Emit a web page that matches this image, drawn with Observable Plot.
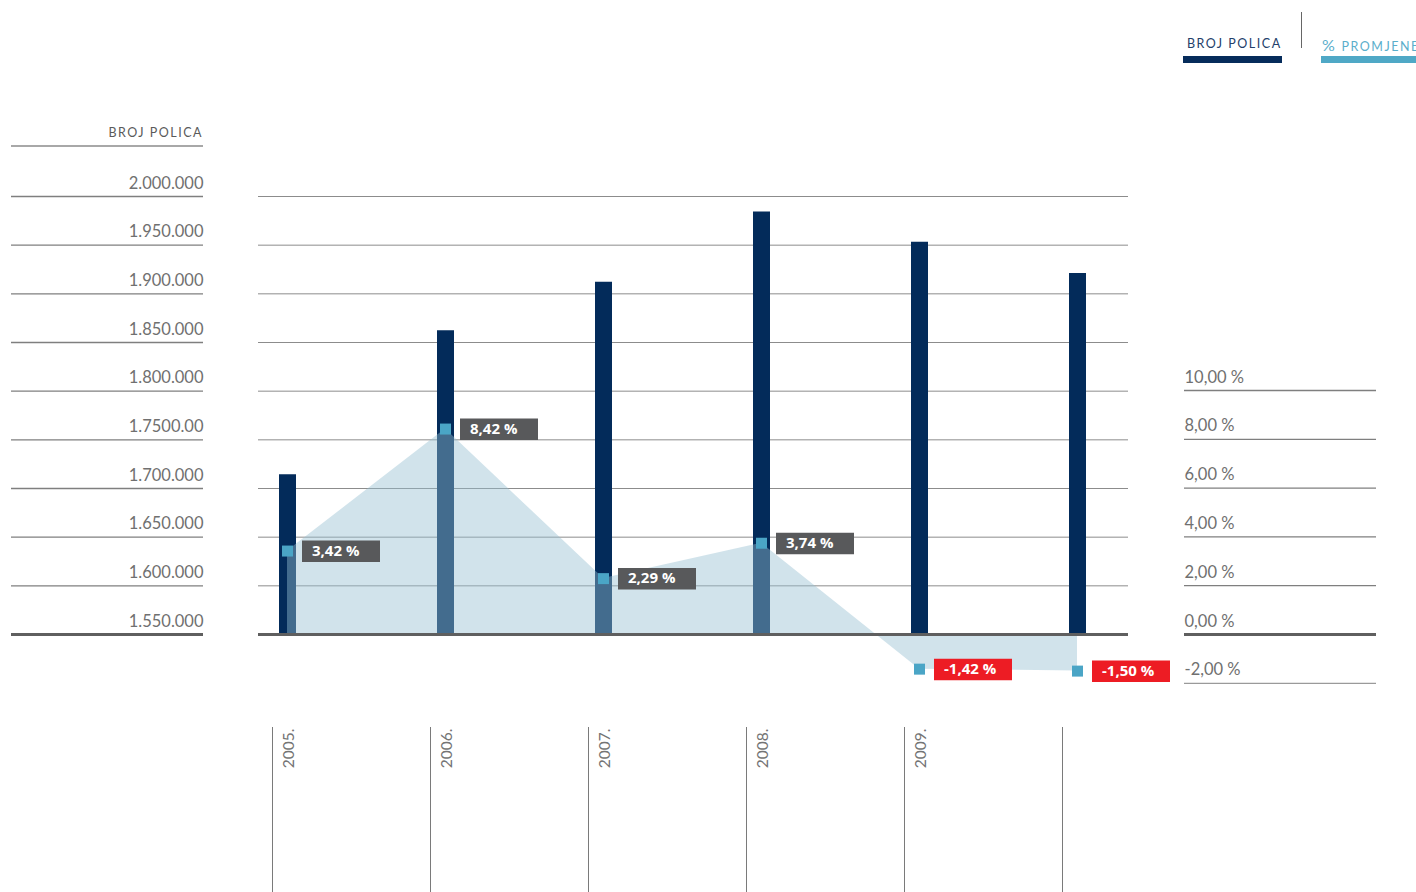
<!DOCTYPE html>
<html>
<head>
<meta charset="utf-8">
<script src="https://cdn.jsdelivr.net/npm/d3@7"></script>
<script src="https://cdn.jsdelivr.net/npm/@observablehq/plot@0.6"></script>
<style>
  html, body { margin: 0; padding: 0; background: #fff; }
  #wrap { position: relative; width: 1416px; height: 892px; overflow: hidden; font-family: Lato, sans-serif; }
  #wrap svg { position: absolute; top: 0; left: 0; }
  .abs { position: absolute; white-space: nowrap; }
</style>
</head>
<body>
<div id="wrap">
  <!-- legend -->
  <div class="abs" style="left:1187px; top:36.5px; font-size:12.5px; line-height:14px; letter-spacing:1.5px; color:#23406a;">BROJ POLICA</div>
  <div class="abs" style="left:1183px; top:56px; width:99px; height:7px; background:#062c5b;"></div>
  <div class="abs" style="left:1301px; top:12px; width:1px; height:36px; background:#666;"></div>
  <div class="abs" style="left:1322px; top:37.5px; font-size:12.5px; line-height:14px; letter-spacing:1.5px; color:#5aaecb;"><span style="font-size:16px; letter-spacing:2px;">%</span> PROMJENE</div>
  <div class="abs" style="left:1321px; top:56px; width:100px; height:7px; background:#4fa8c6;"></div>
  <!-- left axis header -->
  <div class="abs" style="left:11px; width:192px; top:126.2px; text-align:right; font-size:12.5px; line-height:14px; letter-spacing:1.5px; color:#5a5a5a;">BROJ POLICA</div>
  <div class="abs" style="left:11px; top:145px; width:192px; height:2px; background:#a8a8a8;"></div>
</div>
<script>
// ---------------- data ----------------
const years = ["2005", "2006", "2007", "2008", "2009", "2010"];
const yearLabels = ["2005.", "2006.", "2007.", "2008.", "2009.", ""];
const brojPolica = [1714000, 1862000, 1912000, 1984000, 1953000, 1921000];
const promjena = [3.42, 8.42, 2.29, 3.74, -1.42, -1.50];
const promjenaLabels = ["3,42 %", "8,42 %", "2,29 %", "3,74 %", "-1,42 %", "-1,50 %"];
const leftTicks = [1550000, 1600000, 1650000, 1700000, 1750000, 1800000, 1850000, 1900000, 1950000, 2000000];
const leftTickLabels = ["1.550.000", "1.600.000", "1.650.000", "1.700.000", "1.7500.00", "1.800.000", "1.850.000", "1.900.000", "1.950.000", "2.000.000"];
const rightTicks = [-2, 0, 2, 4, 6, 8, 10];
const rightTickLabels = ["-2,00 %", "0,00 %", "2,00 %", "4,00 %", "6,00 %", "8,00 %", "10,00 %"];

// -------------- tables ----------------
const rows = years.map((year, i) => ({
  year, polica: brojPolica[i], pct: promjena[i], label: promjenaLabels[i], yearLabel: yearLabels[i]
}));
const leftAxis = leftTicks.map((v, i) => ({v, label: leftTickLabels[i]}));
const rightAxis = rightTicks.map((v, i) => ({v, label: rightTickLabels[i]}));

// -------------- style -----------------
const W = 1416, H = 892;
const NAVY = "#032b5a", TEAL = "#4aa5c6", GRAY_BOX = "#58595b", RED = "#ed1c24";
const AXIS_TEXT = "#707070";
const xOpts = {type: "point", domain: years, range: [285.5, 1079], padding: 0, axis: null};
const baseStyle = {background: "transparent", fontFamily: "Lato, sans-serif", overflow: "visible"};

const wrap = document.getElementById("wrap");
function add(svg, left = 0, top = 0) {
  svg.style.left = left + "px";
  svg.style.top = top + "px";
  svg.style.maxWidth = "none";
  wrap.appendChild(svg);
}

// ---- left axis (BROJ POLICA) ----
add(Plot.plot({
  width: 215, height: H, marginLeft: 11, marginRight: 12, marginTop: 196, marginBottom: H - 634,
  x: {axis: null}, y: {domain: [1550000, 2000000], axis: null},
  style: baseStyle,
  marks: [
    Plot.ruleY(leftAxis.filter(d => d.v !== 1550000), {y: "v", stroke: "#7f7f7f", strokeWidth: 1.3}),
    Plot.ruleY(leftAxis.filter(d => d.v === 1550000), {y: "v", stroke: "#5f5f5f", strokeWidth: 3}),
    Plot.text(leftAxis, {y: "v", text: "label", frameAnchor: "right", textAnchor: "end", lineAnchor: "bottom",
      dy: -8, fontSize: 16.5, fontWeight: 400, fill: AXIS_TEXT, fontFamily: "Lato, sans-serif"})
  ]
}), 0, 0);

// ---- main: grid + bars ----
add(Plot.plot({
  width: W, height: H, marginLeft: 258, marginRight: W - 1128, marginTop: 196, marginBottom: H - 634,
  x: xOpts, y: {domain: [1550000, 2000000], axis: null},
  style: baseStyle,
  marks: [
    Plot.ruleY(leftTicks.filter(v => v !== 1550000), {stroke: "#8c8c8c", strokeWidth: 1}),
    Plot.ruleX(rows, {x: "year", y1: 1550000, y2: "polica", stroke: NAVY, strokeWidth: 17})
  ]
}), 0, 0);

// ---- overlay: % promjene ----
const boxSymbol = {draw(ctx) { ctx.rect(14.5, -10.5, 78, 21.5); }};
add(Plot.plot({
  width: W, height: H, marginLeft: 258, marginRight: W - 1128, marginTop: 390, marginBottom: H - 634,
  x: xOpts, y: {domain: [0, 10], axis: null},
  style: baseStyle,
  marks: [
    Plot.areaY(rows, {x: "year", y1: 0, y2: "pct", fill: "#96bfd1", fillOpacity: 0.44}),
    Plot.ruleY([0], {stroke: "#5f5f5f", strokeWidth: 3}),
    Plot.dot(rows, {x: "year", y: "pct", symbol: "square", r: 6.2, fill: TEAL}),
    Plot.dot(rows, {x: "year", y: "pct", symbol: boxSymbol, r: 1, fill: d => d.pct < 0 ? RED : GRAY_BOX}),
    Plot.text(rows, {x: "year", y: "pct", text: "label", dx: 24.5, textAnchor: "start", fill: "white",
      fontWeight: "bold", fontSize: 15, fontFamily: "'Open Sans', sans-serif"})
  ]
}), 0, 0);

// ---- right axis (% promjene) ----
add(Plot.plot({
  width: 232, height: H, marginLeft: 0, marginRight: 40, marginTop: 390, marginBottom: H - 634,
  x: {axis: null}, y: {domain: [0, 10], axis: null},
  style: baseStyle,
  marks: [
    Plot.ruleY(rightAxis.filter(d => d.v !== 0), {y: "v", stroke: d => d.v < 0 ? "#9a9a9a" : "#7f7f7f", strokeWidth: 1.3}),
    Plot.ruleY(rightAxis.filter(d => d.v === 0), {y: "v", stroke: "#5f5f5f", strokeWidth: 3}),
    Plot.text(rightAxis, {y: "v", text: "label", frameAnchor: "left", textAnchor: "start", lineAnchor: "bottom",
      dy: -8, fontSize: 16.5, fontWeight: 400, fill: AXIS_TEXT, fontFamily: "Lato, sans-serif"})
  ]
}), 1184, 0);

// ---- years (bottom) ----
add(Plot.plot({
  width: W, height: H - 727, margin: 0,
  x: xOpts, y: {axis: null},
  style: baseStyle,
  marks: [
    Plot.ruleX(rows, {x: "year", dx: -15, stroke: "#7a7a7a", strokeWidth: 1}),
    Plot.text(rows.filter(d => d.yearLabel), {x: "year", text: "yearLabel", frameAnchor: "top", rotate: -90,
      textAnchor: "end", lineAnchor: "middle", dx: 2, dy: 1, fontSize: 15.5, fontWeight: 400, fill: "#747474", fontFamily: "Lato, sans-serif"})
  ]
}), 0, 727);
</script>
</body>
</html>
